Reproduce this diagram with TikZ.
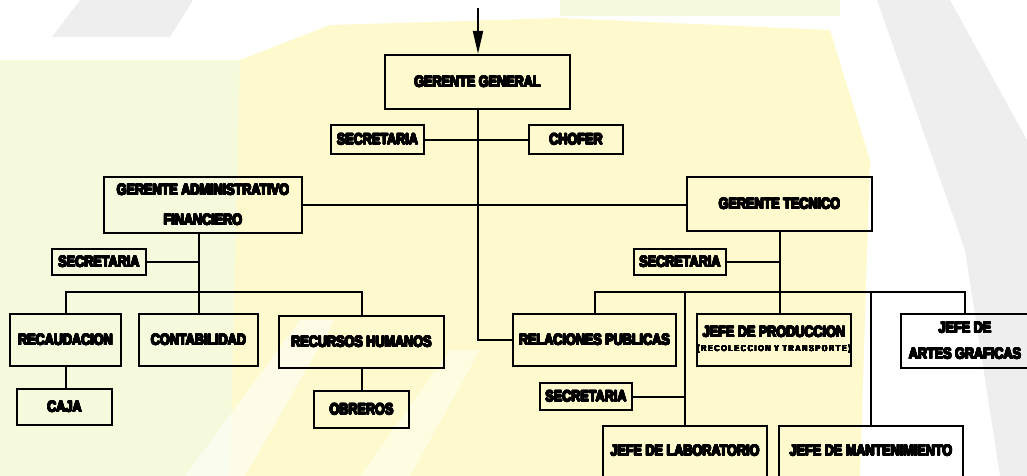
\documentclass[tikz,border=0pt]{standalone}
\usepackage{fontspec}
\usepackage{tikz}
\usepackage{contour}
\usetikzlibrary{arrows.meta,positioning,calc}
\newfontfamily\orgfont{Liberation Sans}[UprightFont={* Bold}, FakeStretch=0.82]
\newcommand\orgtext{\orgfont\fontsize{7.7}{9}\selectfont}
\newcommand\orgsmall{\orgfont\fontsize{4.3}{5}\selectfont\addfontfeatures{LetterSpace=20}}
\contourlength{0.28pt}
\contournumber{16}
\newcommand\heavy[1]{\contour{black}{#1}}
\definecolor{wmyellow}{RGB}{254,250,206}
\definecolor{wmgreen}{RGB}{245,250,220}
\definecolor{wmgray}{RGB}{238,238,238}

\begin{document}
\begin{tikzpicture}[x=0.5pt, y=-0.5pt, >=Stealth,
  box/.style={draw, line width=1.1pt, inner sep=0pt, align=center, font=\orgtext},
  link/.style={line width=1pt}]
\useasboundingbox (0,0) rectangle (1027,476);
\clip (0,0) rectangle (1027,476);
% watermark
\fill[wmgreen] (0,60) -- (250,60) -- (230,476) -- (0,476) -- cycle;
\fill[wmyellow] (240,60) -- (330,25) -- (560,18) -- (830,30) -- (870,160) -- (860,476) -- (230,476) -- cycle;
\fill[white, opacity=0.5] (185,476) -- (245,476) -- (335,320) -- (300,320) -- cycle;
\fill[white, opacity=0.4] (360,476) -- (410,476) -- (480,350) -- (450,350) -- cycle;
\fill[wmgray] (80,0) -- (193,0) -- (170,37) -- (52,37) -- cycle;
\fill[wmgray] (877,0) -- (950,0) -- (1027,140) -- (1027,476) -- (1000,476) -- (965,250) -- cycle;
\fill[wmgreen] (560,0) -- (840,0) -- (840,16) -- (560,16) -- cycle;

% boxes
\node[box, minimum width=92.5pt, minimum height=27pt] (gg) at (477.5,82) {\heavy{GERENTE GENERAL}};
\node[box, minimum width=46.5pt, minimum height=14.5pt] (secgg) at (377.5,139.5) {\heavy{SECRETARIA}};
\node[box, minimum width=47pt, minimum height=14.5pt] (chofer) at (576,139.5) {\heavy{CHOFER}};
\node[box, minimum width=99pt, minimum height=28pt] (gaf) at (203,205) {\heavy{GERENTE ADMINISTRATIVO}\\[6pt]\heavy{FINANCIERO}};
\node[box, minimum width=92.5pt, minimum height=27pt] (gt) at (779.5,204) {\heavy{GERENTE TECNICO}};
\node[box, minimum width=47pt, minimum height=13pt] (secA) at (99,262) {\heavy{SECRETARIA}};
\node[box, minimum width=55.5pt, minimum height=26pt] (recaud) at (65.5,340) {\heavy{RECAUDACION}};
\node[box, minimum width=59.5pt, minimum height=26pt] (conta) at (198.5,340) {\heavy{CONTABILIDAD}};
\node[box, minimum width=82.5pt, minimum height=26pt] (rrhh) at (361.5,342) {\heavy{RECURSOS HUMANOS}};
\node[box, minimum width=47.5pt, minimum height=18pt] (caja) at (64.5,407) {\heavy{CAJA}};
\node[box, minimum width=47.5pt, minimum height=18.5pt] (obreros) at (361.5,409.5) {\heavy{OBREROS}};
\node[box, minimum width=46pt, minimum height=13pt] (secT) at (680,262) {\heavy{SECRETARIA}};
\node[box, minimum width=81.5pt, minimum height=26pt] (relpub) at (594.5,340) {\heavy{RELACIONES PUBLICAS}};
\node[box, minimum width=77pt, minimum height=26pt] (jprod) at (774,340)
  {\heavy{JEFE DE PRODUCCION}\\[-2pt]{\orgsmall\contourlength{0.15pt}\heavy{(RECOLECCION Y TRANSPORTE)}}};
\node[box, minimum width=64pt, minimum height=27pt] (jartes) at (965,341) {\heavy{JEFE DE}\\[4pt]\heavy{ARTES GRAFICAS}};
\node[box, minimum width=46pt, minimum height=13.5pt] (secL) at (586,396.5) {\heavy{SECRETARIA}};
\node[box, anchor=north, minimum width=82pt, text height=14.75pt, text depth=20pt] (jlab) at (685,425) {\heavy{JEFE DE LABORATORIO}};
\node[box, anchor=north, minimum width=92pt, text height=14.75pt, text depth=20pt] (jmant) at (871,425) {\heavy{JEFE DE MANTENIMIENTO}};

% connectors
\coordinate (top) at (478,8);
\coordinate (busA) at (199,292);
\coordinate (busB) at (781,292);
\draw[link, -{Triangle[length=11.5pt, width=5pt]}] (top) -- (top |- gg.north);
\draw[link] (gg.south) |- (relpub.west);
\draw[link] (secgg.east) -- (chofer.west);
\draw[link] (gaf.east) -- (gaf.east -| gt.west);
\draw[link] (conta.north |- gaf.south) -- (conta.north);
\draw[link] (secA.east) -- (secA.east -| conta.north);
\draw[link] (recaud.north) |- (busA) -| (rrhh.north);
\draw[link] (recaud.south) -- (recaud.south |- caja.north);
\draw[link] (rrhh.south) -- (obreros.north);
\draw[link] (gt.south) -- (gt.south |- jprod.north);
\draw[link] (secT.east) -- (secT.east -| gt.south);
\draw[link] (relpub.north) |- (busB) -| (jartes.north);
\draw[link] (jlab.north |- busB) -- (jlab.north);
\draw[link] (secL.east) -- (secL.east -| jlab.north);
\draw[link] (jmant.north |- busB) -- (jmant.north);
\end{tikzpicture}
\end{document}
